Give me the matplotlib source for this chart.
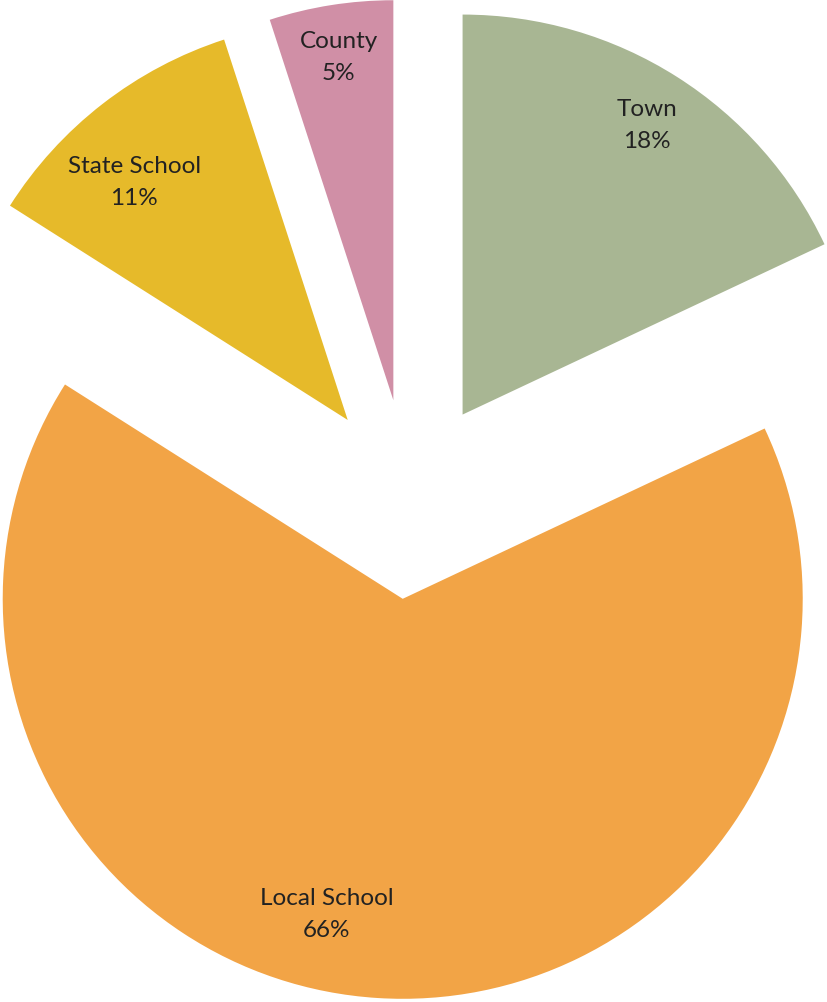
import matplotlib
matplotlib.use('Agg')
import matplotlib.pyplot as plt
import numpy as np

# Slices, clockwise from 12 o'clock
labels = ['Town', 'Local School', 'State School', 'County']
shares = [18, 66, 11, 5]
colors = ['#A8B693', '#F2A446', '#E6BA2A', '#D08FA6']
label_dist = [0.86, 0.81, 0.80, 0.87]
label_shift = [0, -10, 4, 0]   # degrees, nudges label off the mid angle

fig = plt.figure(figsize=(8.28, 10.03), dpi=100)
ax = fig.add_axes([0, 0, 1, 1])

wedges, _ = ax.pie(shares, colors=colors, startangle=90, counterclock=False,
                   explode=[0.25] * len(shares), radius=1.0,
                   wedgeprops=dict(linewidth=0))

for w, lab, val, r, sh in zip(wedges, labels, shares, label_dist, label_shift):
    mid = np.deg2rad((w.theta1 + w.theta2) / 2 + sh)
    cx, cy = w.center
    ax.text(cx + r * np.cos(mid), cy + r * np.sin(mid), f"{lab}\n{val}%",
            ha='center', va='center', fontsize=17.5, family='Lato',
            color='#222222', linespacing=1.65)

ax.set_xlim(-1.0225, 1.0475)
ax.set_ylim(-1.2575, 1.25)
ax.set_aspect('auto')
ax.axis('off')

fig.savefig('out.png', dpi=100)
